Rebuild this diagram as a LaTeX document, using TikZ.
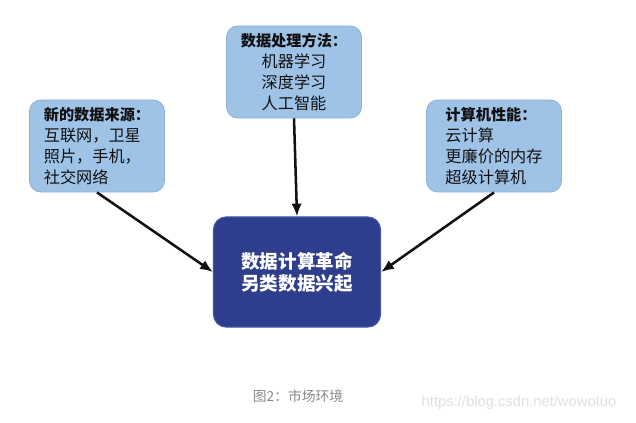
\documentclass[tikz,border=0pt]{standalone}
\usepackage{fontspec}
\setmainfont{Noto Sans CJK SC}
\newfontfamily\cjk{Noto Sans CJK SC}
\usetikzlibrary{arrows.meta}
\definecolor{mktink}{HTML}{111111}
\definecolor{mktlight}{HTML}{9FC3E7}
\definecolor{mktlightedge}{HTML}{8DB2D8}
\definecolor{mktdark}{HTML}{2E3E8C}
\definecolor{mktdarkedge}{HTML}{3A5AA8}
\definecolor{mktgray}{HTML}{8A8A8A}
\newcommand{\boxhead}[1]{{\bfseries\fontsize{10.8}{15}\selectfont #1}}

\begin{document}
\begin{tikzpicture}[
  x=0.025cm, y=-0.025cm,
  font=\cjk,
  srcbox/.style={
    draw=mktlightedge, fill=mktlight, text=mktink, line width=0.6pt,
    rounded corners=8pt, font=\cjk\fontsize{11.5}{14.9}\selectfont,
    minimum width=3.375cm, minimum height=2.3cm, inner sep=4pt
  },
  corebox/.style={
    draw=mktdarkedge, fill=mktdark, text=white, line width=0.8pt,
    rounded corners=9pt, align=center, font=\cjk\bfseries\fontsize{13.2}{15.6}\selectfont,
    minimum width=4.175cm, minimum height=2.75cm
  },
  flow/.style={draw=mktink, line width=1.8pt, -{Latex[length=3.2mm,width=2.6mm]}},
]
\useasboundingbox (0,0) rectangle (636,422);

% ---- source boxes ----
\node[srcbox, align=left]   (data) at (97,146)  {\boxhead{新的数据来源：}\\互联网，卫星\\照片，手机，\\社交网络};
\node[srcbox, align=center] (meth) at (294,72)  {\boxhead{数据处理方法：}\\机器学习\\深度学习\\人工智能};
\node[srcbox, align=left]   (comp) at (494,146) {\boxhead{计算机性能：}\\云计算\\更廉价的内存\\超级计算机};

% ---- centre ----
\node[corebox] (core) at (297,272) {数据计算革命\\另类数据兴起};

\draw[flow] (data.south) -- (core.west);
\draw[flow] (meth.south) -- (core.north);
\draw[flow] (comp.south) -- (core.east);

% ---- caption ----
\node[font=\cjk\fontsize{9.8}{11}\selectfont, text=mktgray] (cap) at (298,396) {图2：市场环境};
\node[font=\fontspec{Liberation Sans}\fontsize{10.5}{12}\selectfont, text=black!12] (mark) at (519,403) {https://blog.csdn.net/wowotuo};

\end{tikzpicture}
\end{document}
